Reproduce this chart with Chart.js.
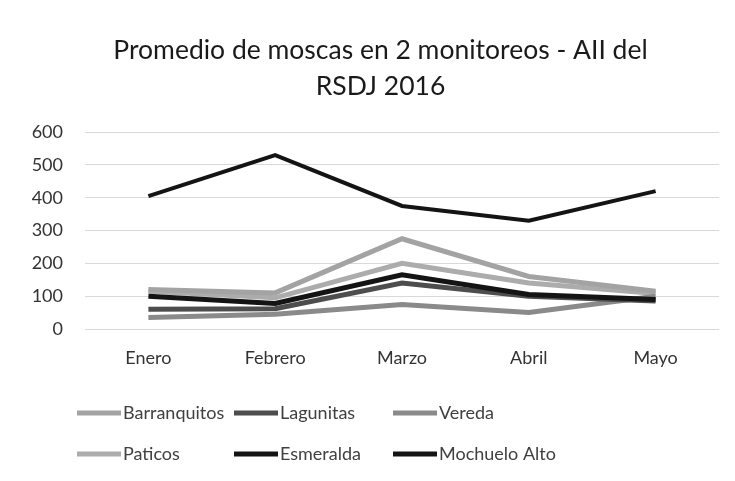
<!DOCTYPE html>
<html>
<head>
<meta charset="utf-8">
<script src="https://cdn.jsdelivr.net/npm/chart.js@4/dist/chart.umd.min.js"></script>
<style>
  html, body { margin: 0; padding: 0; background: #ffffff; }
  #wrap { width: 735px; height: 481px; }
</style>
</head>
<body>
<div id="wrap"><canvas id="c" width="735" height="481"></canvas></div>
<script>
// Monthly categories and tick labels
const months = ['Enero', 'Febrero', 'Marzo', 'Abril', 'Mayo'];
const yTicks = [0, 100, 200, 300, 400, 500, 600];

// Average flies per site (2 monitorings)
const barranquitos = [120, 110, 275, 160, 115];
const lagunitas    = [60, 62, 140, 100, 85];
const vereda       = [35, 45, 75, 50, 100];
const paticos      = [115, 95, 200, 140, 108];
const esmeralda    = [100, 78, 165, 105, 90];
const mochueloAlto = [405, 530, 375, 330, 420];

const seriesNames = ['Barranquitos', 'Lagunitas', 'Vereda', 'Paticos', 'Esmeralda', 'Mochuelo Alto'];
const seriesValues = [barranquitos, lagunitas, vereda, paticos, esmeralda, mochueloAlto];
const seriesColors = ['#a3a3a3', '#4d4d4d', '#8a8a8a', '#acacac', '#141414', '#141414'];
const seriesWidths = [5, 5, 5, 5, 5, 4];
const seriesOrder  = [3, 2, 4, 5, 1, 0];

const FONT = 'Lato, "Open Sans", sans-serif';

// Center the title over the plot rather than the whole canvas
const titleOverPlot = {
  id: 'titleOverPlot',
  afterLayout(chart) {
    if (chart.titleBlock) chart.titleBlock.left = 42;
  }
};

// Legend laid out in a fixed 3-column grid below the plot
const gridLegend = {
  id: 'gridLegend',
  afterDraw(chart) {
    const ctx = chart.ctx;
    const cols = [77, 234, 393];
    const rows = [413, 454];
    ctx.save();
    ctx.font = '18px ' + FONT;
    ctx.textBaseline = 'middle';
    ctx.textAlign = 'left';
    chart.data.datasets.forEach((ds, i) => {
      const x = cols[i % 3];
      const y = rows[Math.floor(i / 3)];
      ctx.strokeStyle = ds.borderColor;
      ctx.lineWidth = 5;
      ctx.lineCap = 'butt';
      ctx.beginPath();
      ctx.moveTo(x, y);
      ctx.lineTo(x + 44, y);
      ctx.stroke();
      ctx.fillStyle = '#404040';
      ctx.fillText(ds.label, x + 46, y);
    });
    ctx.restore();
  }
};

new Chart(document.getElementById('c'), {
  type: 'line',
  data: {
    labels: months,
    datasets: seriesNames.map((name, i) => ({
      label: name,
      data: seriesValues[i],
      borderColor: seriesColors[i],
      backgroundColor: seriesColors[i],
      borderWidth: seriesWidths[i],
      pointRadius: 0,
      tension: 0,
      fill: false,
      order: seriesOrder[i]
    }))
  },
  options: {
    responsive: false,
    animation: false,
    layout: { padding: { left: 0, right: 16, top: 0, bottom: 0 } },
    plugins: {
      legend: { display: false },
      tooltip: { enabled: false },
      title: {
        display: true,
        text: ['Promedio de moscas en 2 monitoreos - AII del', 'RSDJ 2016'],
        color: '#1a1a1a',
        font: { family: FONT, size: 26.5, weight: 'normal', lineHeight: 1.36 },
        padding: { top: 32, bottom: 28 }
      }
    },
    scales: {
      x: {
        offset: true,
        grid: { display: false, drawTicks: false },
        border: { display: false },
        ticks: { color: '#333333', font: { family: FONT, size: 18 }, padding: 18 },
        afterFit: s => { s.height = 152; }
      },
      y: {
        min: 0,
        max: 600,
        afterBuildTicks: s => { s.ticks = yTicks.map(v => ({ value: v })); },
        grid: { color: '#d9d9d9', lineWidth: 1, drawTicks: false },
        border: { display: false },
        ticks: { color: '#333333', font: { family: FONT, size: 18 }, padding: 22 },
        afterFit: s => { s.width = 85; }
      }
    }
  },
  plugins: [titleOverPlot, gridLegend]
});
</script>
</body>
</html>
